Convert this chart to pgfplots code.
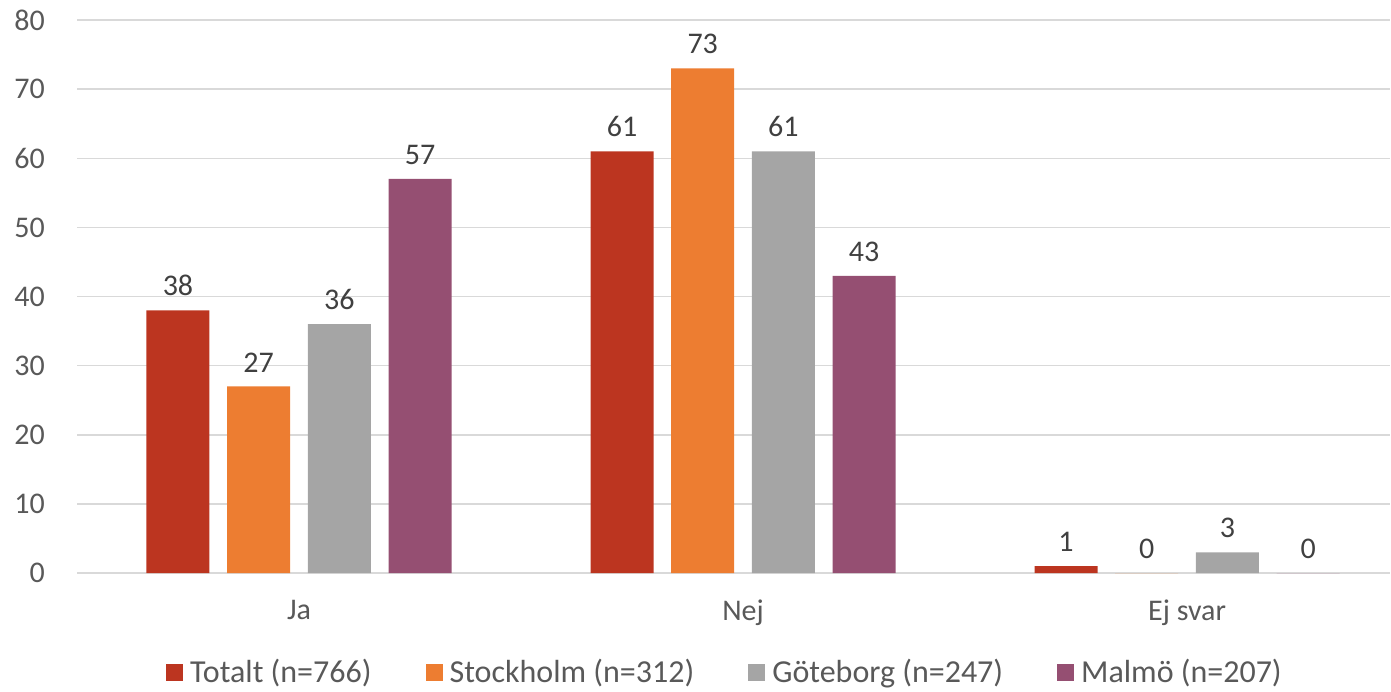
\documentclass[border=0pt]{standalone}
\usepackage{fontspec}
\setmainfont{Carlito}
\usepackage{pgfplots}
\pgfplotsset{compat=1.18}
\definecolor{cTot}{HTML}{BC3520}
\definecolor{cSto}{HTML}{ED7D31}
\definecolor{cGot}{HTML}{A5A5A5}
\definecolor{cMal}{HTML}{954F72}
\definecolor{cTick}{HTML}{595959}
\definecolor{cLab}{HTML}{404040}
\definecolor{cGrid}{HTML}{D9D9D9}
\newcommand{\ff}{\fontsize{30pt}{36pt}\selectfont}
\newcommand{\fl}{\fontsize{32pt}{38pt}\selectfont}
\begin{document}
\ff
\begin{tikzpicture}
\begin{axis}[
  at={(77pt,118pt)}, anchor=south west,
  scale only axis, width=1313pt, height=553pt,
  /pgf/number format/assume math mode=true,
  ybar=17.7pt, bar width=63pt,
  xmin=-0.5, xmax=2.457, ymin=0, ymax=80,
  ytick={0,10,...,80},
  xtick=data, xticklabels={Ja,Nej,Ej svar},
  axis line style={draw=none},
  major tick length=0pt,
  ymajorgrids, grid style={cGrid, line width=1.5pt},
  extra y ticks={0}, extra y tick labels={},
  extra y tick style={grid style={cGrid,line width=2pt}},
  ticklabel style={font=\ff, text=cTick},
  yticklabel style={xshift=-22pt},
  xticklabel style={yshift=-17pt},
  nodes near coords,
  every node near coord/.append style={font=\ff, text=cLab, yshift=4pt},
  legend columns=4,
  legend style={at={(axis description cs:0.4935,-0.181)}, anchor=center, draw=none, fill=none,
    font=\fl, text=cTick,
    /tikz/every odd column/.append style={column sep=5pt},
    /tikz/every even column/.append style={column sep=52pt}},
  legend image code/.code={\fill[#1] (0pt,-8pt) rectangle (17pt,9pt);},
]
\addplot[fill=cTot, draw=none] coordinates {(0,38) (1,61) (2,1)};
\addplot[fill=cSto, draw=none] coordinates {(0,27) (1,73) (2,0)};
\addplot[fill=cGot, draw=none] coordinates {(0,36) (1,61) (2,3)};
\addplot[fill=cMal, draw=none] coordinates {(0,57) (1,43) (2,0)};
\legend{Totalt (n=766),Stockholm (n=312),Göteborg (n=247),Malmö (n=207)}
\end{axis}
\pgfresetboundingbox
\useasboundingbox (0,0) rectangle (1391pt,691pt);
\end{tikzpicture}
\end{document}
